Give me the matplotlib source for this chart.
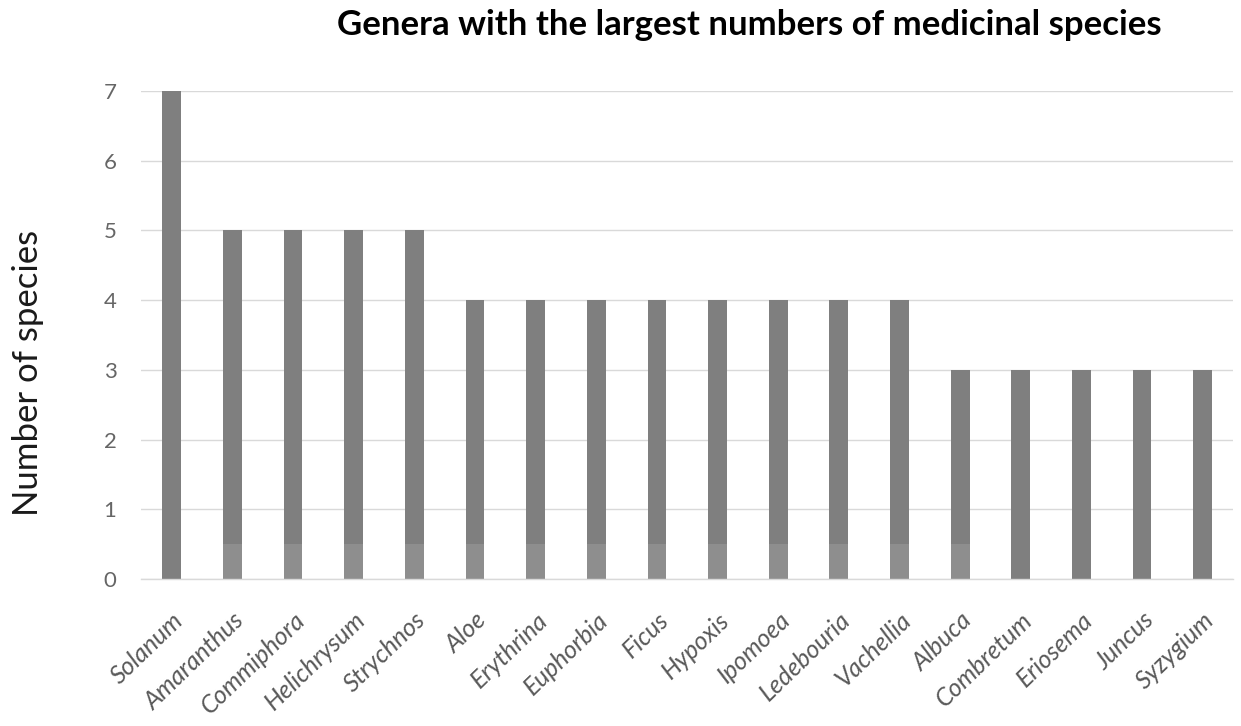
import matplotlib
matplotlib.use("Agg")
import matplotlib.pyplot as plt
import matplotlib.transforms as mtransforms

genera = ["Solanum", "Amaranthus", "Commiphora", "Helichrysum", "Strychnos",
          "Aloe", "Erythrina", "Euphorbia", "Ficus", "Hypoxis", "Ipomoea",
          "Ledebouria", "Vachellia", "Albuca", "Combretum", "Eriosema",
          "Juncus", "Syzygium"]
species_counts = [7, 5, 5, 5, 5, 4, 4, 4, 4, 4, 4, 4, 4, 3, 3, 3, 3, 3]
y_ticks = [0, 1, 2, 3, 4, 5, 6, 7]

plt.rcParams['font.family'] = ['Lato', 'DejaVu Sans']

fig = plt.figure(figsize=(12.41, 7.26), dpi=100)
ax = fig.add_axes([0.114, 0.2025, 0.8796, 0.6722])

x = list(range(len(genera)))
ax.bar(x, species_counts, width=0.31, color='#7f7f7f', zorder=2)

# lighter band across the lower part of the middle bars
ax.fill_between([0.5, 13.5], 0, 0.5, color='white', alpha=0.12, zorder=3,
                linewidth=0)

ax.set_xlim(-0.5, len(genera) - 0.5)
ax.set_ylim(0, 7)
ax.set_yticks(y_ticks)
ax.yaxis.grid(True, color='#d9d9d9', linewidth=1.0, zorder=0)
ax.set_axisbelow(True)

for side in ['top', 'right', 'left']:
    ax.spines[side].set_visible(False)
ax.spines['bottom'].set_color('#d9d9d9')
ax.spines['bottom'].set_linewidth(1.0)

ax.tick_params(axis='y', length=0, labelsize=16, labelcolor='#666666', pad=18)
ax.tick_params(axis='x', length=0, pad=0)

ax.set_xticks(x)
ax.set_xticklabels(genera, rotation=44, ha='right', va='top',
                   rotation_mode='anchor',
                   fontsize=18, fontstyle='italic', color='#595959')
shift = mtransforms.ScaledTranslation(0 / 72, -21 / 72, fig.dpi_scale_trans)
for lbl in ax.get_xticklabels():
    lbl.set_transform(lbl.get_transform() + shift)

ax.set_ylabel("Number of species", fontsize=25, color='#1a1a1a')
ax.yaxis.set_label_coords(-0.0895, 0.422)

fig.text(0.604, 0.952, "Genera with the largest numbers of medicinal species",
         ha='center', va='baseline', fontsize=25, fontweight='bold', color='black')

fig.savefig("out.png", dpi=100)
